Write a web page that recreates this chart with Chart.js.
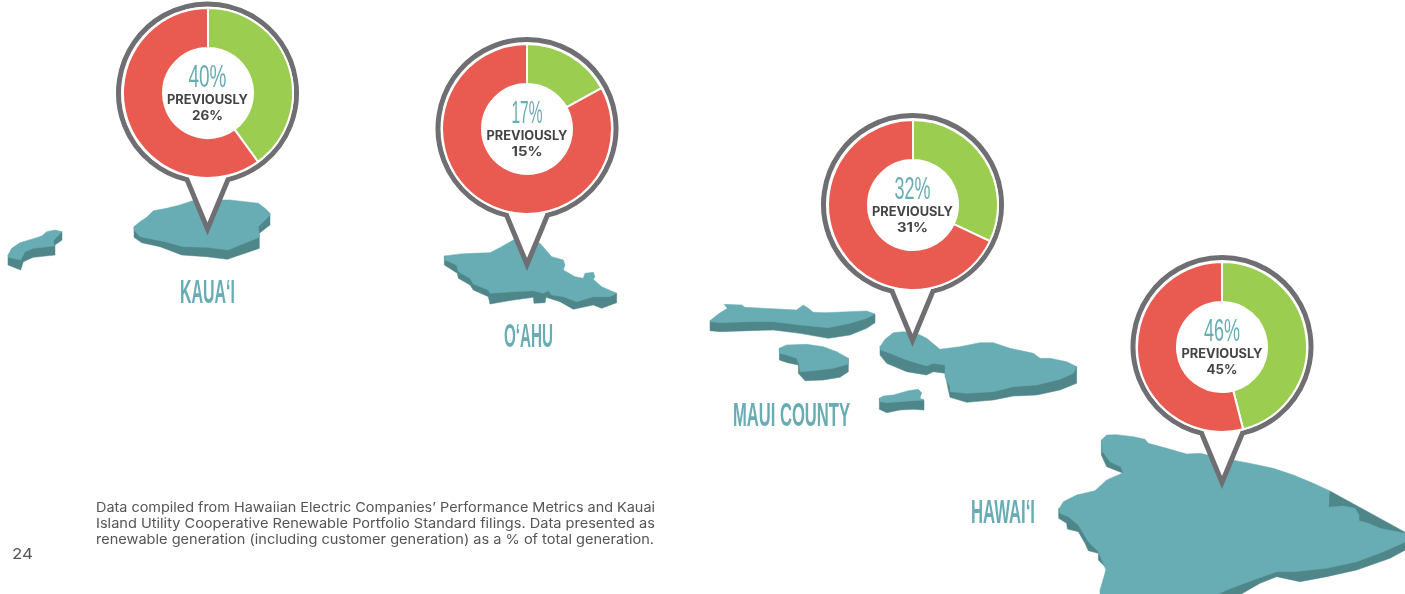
<!DOCTYPE html>
<html>
<head>
<meta charset="utf-8">
<script src="https://cdn.jsdelivr.net/npm/chart.js@4/dist/chart.umd.min.js"></script>
<style>
  html, body { margin: 0; padding: 0; background: #fff; }
  #stage { position: relative; width: 1405px; height: 594px; overflow: hidden; }
  #stage svg { position: absolute; left: 0; top: 0; }
  #stage canvas { position: absolute; }
</style>
</head>
<body>
<div id="stage">
  <svg id="map" width="1405" height="594" viewBox="0 0 1405 594">
    <!-- Kaua'i and Ni'ihau -->
    <g transform="scale(0.33333)">
      <path class="side" d="M24,765 L24,795 L62,810 L70,785 L100,772 L165,765 L165,735 L186,720 L186,695 Z"/>
      <path class="top" d="M24,765 L35,745 L60,728 L100,716 L125,708 L140,695 L165,690 L186,695 L160,722 L163,738 L100,745 L75,755 L62,780 L25,772 Z"/>
      <path class="side" d="M402,680 L402,712 L425,728 L480,740 L545,765 L620,770 L682,778 L778,745 L778,700 L810,675 L810,640 Z"/>
      <path class="top" d="M402,680 L420,665 L440,652 L460,632 L500,625 L540,615 L575,603 L600,600 L690,600 L735,605 L775,610 L795,625 L810,640 L810,645 L775,680 L778,712 L720,735 L685,750 L620,742 L550,740 L495,725 L420,710 L402,690 Z"/>
    </g>
    <!-- O'ahu -->
    <g transform="translate(420,30) scale(0.33333)">
      <path class="side" d="M73,678 L73,705 L112,730 L115,745 L150,765 L160,780 L205,800 L210,822 L280,810 L340,802 L342,820 L375,818 L378,802 L420,815 L460,838 L520,825 L545,835 L590,818 L590,790 Z"/>
      <path class="top" d="M73,678 L120,672 L160,670 L210,668 L245,650 L280,630 L310,625 L360,640 L395,680 L430,690 L435,705 L430,720 L465,740 L490,745 L495,730 L520,727 L525,740 L520,748 L545,770 L590,790 L570,800 L520,800 L470,815 L430,800 L395,795 L385,782 L370,790 L340,782 L280,785 L210,790 L205,780 L160,762 L150,745 L115,725 L110,705 L75,690 Z"/>
    </g>
    <!-- Maui, Moloka'i, Lana'i, Kaho'olawe -->
    <g transform="translate(700,290) scale(0.33333)">
      <path class="side" d="M30,92 L30,122 L60,125 L150,122 L220,120 L300,130 L385,145 L450,135 L500,115 L525,98 L525,72 Z"/>
      <path class="top" d="M30,92 L55,72 L82,55 L72,43 L125,45 L135,52 L290,60 L310,45 L325,55 L340,67 L375,68 L500,63 L525,72 L500,85 L450,100 L385,113 L300,105 L220,95 L150,95 L60,98 L30,95 Z"/>
      <path class="side" d="M238,175 L238,210 L262,218 L295,225 L295,250 L315,272 L370,270 L420,262 L445,245 L445,205 Z"/>
      <path class="top" d="M238,175 L260,165 L320,163 L370,170 L410,185 L445,205 L445,222 L400,235 L340,242 L300,245 L298,225 L290,205 L260,195 L238,190 Z"/>
      <path class="side" d="M538,325 L538,358 L560,368 L600,360 L640,358 L672,360 L672,330 Z"/>
      <path class="top" d="M538,325 L550,318 L580,315 L625,302 L655,298 L665,308 L660,325 L672,330 L640,332 L600,335 L560,338 L540,335 Z"/>
      <path class="side" d="M540,170 L540,195 L560,220 L620,245 L680,255 L700,245 L735,250 L745,300 L750,322 L800,337 L880,330 L940,318 L1010,315 L1080,300 L1130,280 L1130,230 Z"/>
      <path class="top" d="M540,170 L555,148 L580,128 L610,125 L650,130 L680,145 L720,178 L780,170 L840,158 L880,158 L930,175 L1000,190 L1020,205 L1050,205 L1100,215 L1130,230 L1120,250 L1080,268 L1010,285 L940,290 L880,305 L800,310 L750,305 L750,290 L735,260 L735,225 L700,220 L680,228 L620,210 L570,190 L542,180 Z"/>
    </g>
    <!-- Hawai'i island, running off the lower edge -->
    <g transform="translate(960,420) scale(0.33333)">
      <path class="side" d="M424,60 L424,105 L440,140 L490,160 L440,300 L296,265 L296,295 L320,310 L322,327 L355,335 L375,370 L385,392 L415,400 L415,420 L440,445 L420,530 L830,530 L900,490 L950,470 L1020,485 L1100,470 L1190,450 L1290,415 L1345,385 L1345,342 L1108,212 L1105,262 Z"/>
      <path class="top" d="M424,60 L440,45 L470,44 L520,50 L555,58 L565,70 L620,85 L680,102 L720,100 L787,115 L860,128 L940,145 L1000,165 L1060,190 L1108,212 L1105,262 L1150,258 L1185,265 L1197,285 L1197,302 L1225,310 L1260,325 L1345,342 L1345,362 L1270,395 L1190,425 L1100,445 L1000,455 L950,455 L880,480 L800,510 L760,530 L420,530 L420,510 L438,450 L415,395 L385,365 L370,340 L355,315 L325,290 L300,280 L298,265 L310,245 L350,225 L405,212 L440,180 L490,158 L482,140 L450,125 L428,95 Z"/>
    </g>
    <g id="pins"></g>
  </svg>
  <svg id="labels" width="1405" height="594" viewBox="0 0 1405 594"></svg>
</div>
<style>
  #map .top  { fill: #68adb4; stroke: #68adb4; stroke-width: 1.5; stroke-linejoin: round; }
  #map .side { fill: #4f868a; stroke: #4f868a; stroke-width: 1.5; stroke-linejoin: round; }
</style>
<script>
// Renewable share of generation by county, current and prior figures.
const regions = ['KAUA‘I', 'O‘AHU', 'MAUI COUNTY', 'HAWAI‘I'];
const renewablePct = [40, 17, 32, 46];
const previousPct = [26, 15, 31, 45];
const previousCaption = 'PREVIOUSLY';
const footnoteLines = [
  'Data compiled from Hawaiian Electric Companies’ Performance Metrics and Kauai',
  'Island Utility Cooperative Renewable Portfolio Standard filings. Data presented as',
  'renewable generation (including customer generation) as a % of total generation.'
];
const pageNumber = '24';

// Pin centres on the page.
const pinX = [207.5, 527, 912.5, 1222];
const pinY = [93, 128.5, 204.5, 346.5];
// Widths of the big percentage figures, and region name placement.
const pctWidth = [38, 31, 36, 36];
const nameX = [180, 504, 733, 971];
const nameBase = [303, 347, 426, 523];
const nameWidth = [55, 49, 117, 64];

const COLORS = { green: '#9bcd50', red: '#e95b50', ring: '#6f6e72', teal: '#68adb4', ink: '#444444', note: '#555555' };
const SVGNS = 'http://www.w3.org/2000/svg';
const NARROW = '"Liberation Sans Narrow", "Liberation Sans", sans-serif';

function addText(parent, str, x, y, attrs) {
  const t = document.createElementNS(SVGNS, 'text');
  t.textContent = str;
  t.setAttribute('x', x);
  t.setAttribute('y', y);
  Object.keys(attrs).forEach(k => t.setAttribute(k, attrs[k]));
  parent.appendChild(t);
  return t;
}

const pinLayer = document.getElementById('pins');
const labelLayer = document.getElementById('labels');
const stage = document.getElementById('stage');
const SIZE = 172;

regions.forEach((name, i) => {
  const cx = pinX[i], cy = pinY[i];

  // Callout: a ring with a pointed stem that lands on the island.
  const r = 89, dx = 20.5, dy = Math.sqrt(r * r - dx * dx);
  const pin = document.createElementNS(SVGNS, 'path');
  pin.setAttribute('d',
    `M${cx - dx},${cy + dy} A${r},${r} 0 1 1 ${cx + dx},${cy + dy} L${cx},${cy + 136} Z`);
  pin.setAttribute('fill', '#ffffff');
  pin.setAttribute('stroke', COLORS.ring);
  pin.setAttribute('stroke-width', 5);
  pin.setAttribute('stroke-linejoin', 'miter');
  pin.setAttribute('stroke-miterlimit', 8);
  pinLayer.appendChild(pin);

  // Doughnut of renewable against the remainder.
  const canvas = document.createElement('canvas');
  canvas.width = SIZE;
  canvas.height = SIZE;
  canvas.style.left = (cx - SIZE / 2) + 'px';
  canvas.style.top = (cy - SIZE / 2) + 'px';
  canvas.style.width = SIZE + 'px';
  canvas.style.height = SIZE + 'px';
  stage.insertBefore(canvas, labelLayer);
  new Chart(canvas, {
    type: 'doughnut',
    data: {
      labels: ['Renewable', 'Other'],
      datasets: [{
        data: [renewablePct[i], 100 - renewablePct[i]],
        backgroundColor: [COLORS.green, COLORS.red],
        borderColor: '#ffffff',
        borderWidth: 2
      }]
    },
    options: {
      responsive: false,
      animation: false,
      cutout: 45,
      rotation: 0,
      layout: { padding: 0 },
      plugins: { legend: { display: false }, tooltip: { enabled: false } }
    }
  });

  // Centre text.
  addText(labelLayer, renewablePct[i] + '%', cx, cy - 6, {
    'text-anchor': 'middle', 'font-family': NARROW, 'font-size': 31, fill: COLORS.teal,
    textLength: pctWidth[i], lengthAdjust: 'spacingAndGlyphs'
  });
  addText(labelLayer, previousCaption, cx, cy + 11, {
    'text-anchor': 'middle', 'font-family': 'Inter, sans-serif', 'font-weight': 700, 'font-size': 12.5,
    fill: COLORS.ink, textLength: 81, lengthAdjust: 'spacingAndGlyphs'
  });
  addText(labelLayer, previousPct[i] + '%', cx, cy + 27, {
    'text-anchor': 'middle', 'font-family': 'Inter, sans-serif', 'font-weight': 700, 'font-size': 12.5,
    fill: COLORS.ink, textLength: 31, lengthAdjust: 'spacingAndGlyphs'
  });

  // Region name.
  addText(labelLayer, name, nameX[i], nameBase[i], {
    'font-family': NARROW, 'font-weight': 700, 'font-size': 33, fill: COLORS.teal,
    textLength: nameWidth[i], lengthAdjust: 'spacingAndGlyphs'
  });
});

// Source note and folio.
const noteWidth = [559, 559, 558];
footnoteLines.forEach((line, i) => {
  addText(labelLayer, line, 96, 512 + i * 16, {
    'font-family': 'Inter, sans-serif', 'font-size': 13.5, fill: COLORS.note,
    textLength: noteWidth[i], lengthAdjust: 'spacingAndGlyphs'
  });
});
addText(labelLayer, pageNumber, 12, 559, {
  'font-family': 'Inter, sans-serif', 'font-size': 15, fill: COLORS.note,
  textLength: 21, lengthAdjust: 'spacingAndGlyphs'
});
</script>
</body>
</html>
